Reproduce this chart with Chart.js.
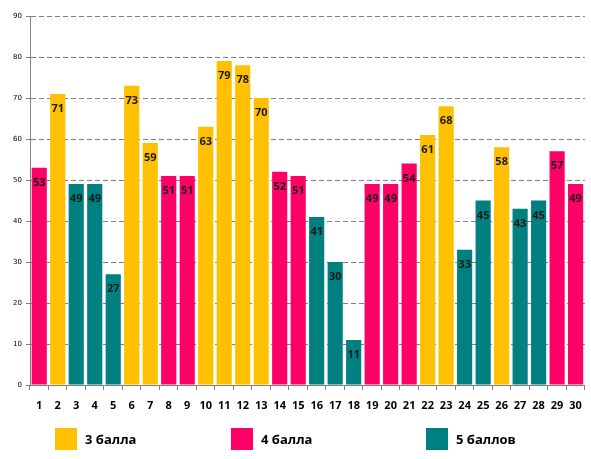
<!DOCTYPE html>
<html>
<head>
<meta charset="utf-8">
<script src="https://cdn.jsdelivr.net/npm/chart.js@4"></script>
<style>
  body { margin: 0; background: #fff; }
  #wrap { position: relative; width: 591px; height: 459px; }
  .leg { position: absolute; top: 428px; display: flex; align-items: center;
         font-family: "Open Sans", "DejaVu Sans", sans-serif; font-weight: bold; font-size: 13px; color: #000; }
  .leg span.box { display: inline-block; width: 22px; height: 22px; margin-right: 8px; }
</style>
</head>
<body>
<div id="wrap">
  <canvas id="chart" width="591" height="459"></canvas>
  <div id="legend"></div>
</div>
<script>
const labels = ['1','2','3','4','5','6','7','8','9','10','11','12','13','14','15',
                '16','17','18','19','20','21','22','23','24','25','26','27','28','29','30']
const values = [53, 71, 49, 49, 27, 73, 59, 51, 51, 63, 79, 78, 70, 52, 51,
                41, 30, 11, 49, 49, 54, 61, 68, 33, 45, 58, 43, 45, 57, 49]
// 0 = 3 балла, 1 = 4 балла, 2 = 5 баллов
const groups = [1, 0, 2, 2, 2, 0, 0, 1, 1, 0, 0, 0, 0, 1, 1,
                2, 2, 2, 1, 1, 1, 0, 0, 2, 2, 0, 2, 2, 1, 1]
const groupNames = ['3 балла', '4 балла', '5 баллов']
const groupColors = ['#FFC000', '#FF0066', '#008080']
const legendLeft = [55, 231, 426]

const barLabels = {
    id: 'barLabels',
    afterDatasetsDraw(chart) {
        const ctx = chart.ctx
        const meta = chart.getDatasetMeta(0)
        ctx.save()
        ctx.font = 'bold 11px "Open Sans", "DejaVu Sans", sans-serif'
        ctx.fillStyle = '#1a1a1a'
        ctx.textAlign = 'center'
        ctx.textBaseline = 'middle'
        meta.data.forEach((bar, i) => {
            ctx.fillText(values[i], bar.x, bar.y + 15)
        })
        ctx.restore()
    }
}

new Chart(document.getElementById('chart'), {
    type: 'bar',
    data: {
        labels: labels,
        datasets: [{
            data: values,
            backgroundColor: groups.map(g => groupColors[g]),
            borderWidth: 0,
            barPercentage: 0.82,
            categoryPercentage: 1
        }]
    },
    options: {
        responsive: false,
        animation: false,
        layout: { padding: { top: 16, right: 6, bottom: 44, left: 0 } },
        plugins: {
            legend: { display: false },
            tooltip: { enabled: false }
        },
        scales: {
            x: {
                grid: { display: true, drawOnChartArea: false, drawTicks: true, tickLength: 5, color: '#808080', offset: true },
                border: { color: '#808080' },
                ticks: {
                    color: '#000',
                    padding: 9,
                    maxRotation: 0,
                    autoSkip: false,
                    font: { family: '"Open Sans", "DejaVu Sans", sans-serif', weight: 'bold', size: 11 }
                },
                afterFit(scale) { scale.height = 30 }
            },
            y: {
                min: 0,
                max: 90,
                ticks: {
                    stepSize: 10,
                    color: '#000',
                    padding: 4,
                    font: { family: '"DejaVu Sans", sans-serif', size: 7 }
                },
                grid: { color: '#808080', tickLength: 4 },
                border: { color: '#808080', dash: [5, 3] },
                afterFit(scale) { scale.width = 30 }
            }
        }
    },
    plugins: [barLabels]
})

const legendEl = document.getElementById('legend')
groupNames.forEach((name, i) => {
    const item = document.createElement('div')
    item.className = 'leg'
    item.style.left = legendLeft[i] + 'px'
    item.innerHTML = '<span class="box" style="background:' + groupColors[i] + '"></span>' + name
    legendEl.appendChild(item)
})
</script>
</body>
</html>
